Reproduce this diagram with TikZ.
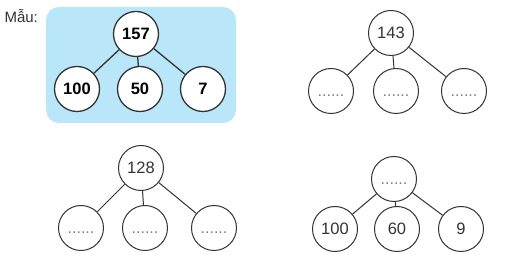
\documentclass[tikz,border=0pt]{standalone}
\usepackage{fontspec}
\setmainfont{Liberation Sans}
\usepackage{xcolor}
\usetikzlibrary{positioning}
\definecolor{skyfill}{HTML}{B9E6F8}
\definecolor{inkgray}{HTML}{333333}
\newcommand{\gap}{\vphantom{0}......}

\begin{document}
\begin{tikzpicture}[
  x=1pt, y=-1pt,
  num/.style={draw=inkgray, circle, line width=1pt, fill=white, minimum size=45pt, inner sep=0pt, font=\fontsize{16.5}{16.5}\selectfont, text=inkgray},
  bnum/.style={num, line width=1.3pt, text=black, font=\fontsize{16.5}{16.5}\selectfont\bfseries},
  blank/.style={num, font=\fontsize{16}{16}\selectfont, text=black!50},
  link/.style={draw=inkgray, line width=1pt},
  blink/.style={link, line width=1.3pt}
]
  \useasboundingbox (0,0) rectangle (507,261);
  \node[anchor=west, font=\fontsize{15}{15}\selectfont, text=inkgray] (mau) at (1,16) {Mẫu:};
  \fill[skyfill, rounded corners=13pt] (46,7) rectangle (236,123);

  % sample
  \node[bnum] (s0) at (136,34) {157};
  \node[bnum] (s1) at (77,89) {100};
  \node[bnum] (s2) at (140,89) {50};
  \node[bnum] (s3) at (203,89) {7};

  % 143
  \node[num] (p0) at (391,33) {143};
  \node[blank] (p1) at (331,91) {\gap};
  \node[blank] (p2) at (396,91) {\gap};
  \node[blank] (p3) at (464,91) {\gap};

  % 128
  \node[num] (q0) at (141,168) {128};
  \node[blank] (q1) at (81,228) {\gap};
  \node[blank] (q2) at (145,228) {\gap};
  \node[blank] (q3) at (214,228) {\gap};

  % sum unknown
  \node[blank] (r0) at (394,179) {\gap};
  \node[num] (r1) at (335,229) {100};
  \node[num] (r2) at (397,229) {60};
  \node[num] (r3) at (461,229) {9};

  \draw[blink] (s0) -- (s1);
  \draw[blink] (s0) -- (s2);
  \draw[blink] (s0) -- (s3);
  \draw[link] (p0) -- (p1);
  \draw[link] (p0) -- (p2);
  \draw[link] (p0) -- (p3);
  \draw[link] (q0) -- (q1);
  \draw[link] (q0) -- (q2);
  \draw[link] (q0) -- (q3);
  \draw[link] (r0) -- (r1);
  \draw[link] (r0) -- (r2);
  \draw[link] (r0) -- (r3);
\end{tikzpicture}
\end{document}
